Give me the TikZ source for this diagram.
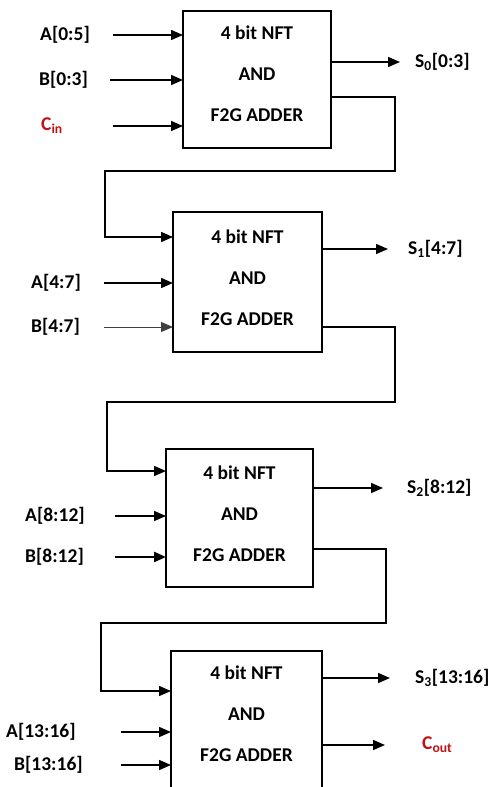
\documentclass[tikz,border=0pt]{standalone}
\usepackage{fontspec}
\setmainfont{Carlito}
\usetikzlibrary{arrows.meta}
\definecolor{carryred}{RGB}{190,20,20}
\begin{document}
\begin{tikzpicture}[x=1pt,y=-1pt,
  blk/.style={draw, line width=1.8pt, inner sep=0pt, outer sep=0pt, anchor=north west},
  blktxt/.style={font=\fontsize{19.5}{41}\selectfont\bfseries, align=center, inner sep=0pt},
  lbl/.style={font=\fontsize{19.5}{20}\selectfont\bfseries, inner sep=0pt, anchor=west},
  clbl/.style={lbl, text=carryred},
  arr/.style={line width=1.5pt, -{Triangle[length=12pt,width=10pt]}},
  thinarr/.style={line width=0.9pt, draw=black!75, -{Triangle[length=12pt,width=10pt]}},
  thickarr/.style={line width=2.3pt, -{Triangle[length=12pt,width=10pt]}},
  wire/.style={line width=1.4pt},
]
\clip (0,0) rectangle (501,787);
\fill[white] (0,0) rectangle (501,787);

% adder blocks
\node[blk, minimum width=148pt, minimum height=137pt] (b1) at (183,11) {};
\node[blk, minimum width=149pt, minimum height=140pt] (b2) at (173,212) {};
\node[blk, minimum width=147pt, minimum height=138pt] (b3) at (166,449) {};
\node[blk, minimum width=151pt, minimum height=150pt] (b4) at (171,651) {};

\node[blktxt] (t1) at (257,74) {4 bit NFT\\AND\\F2G ADDER};
\node[blktxt] (t2) at (247.5,278) {4 bit NFT\\AND\\F2G ADDER};
\node[blktxt] (t3) at (239.5,514) {4 bit NFT\\AND\\F2G ADDER};
\node[blktxt] (t4) at (246.5,714) {4 bit NFT\\AND\\F2G ADDER};

% block 1 inputs
\node[lbl] (a1) at (40,35) {A[0:5]};
\node[lbl] (bb1) at (39,80) {B[0:3]};
\node[clbl] (cin) at (41,126) {C\textsubscript{in}};
\coordinate (a1s) at (113,35);
\coordinate (bb1s) at (110,80);
\coordinate (cins) at (113,126);
\draw[arr] (a1s) -- (a1s -| b1.west);
\draw[arr] (bb1s) -- (bb1s -| b1.west);
\draw[arr] (cins) -- (cins -| b1.west);

% block 2 inputs
\node[lbl] (a2) at (31,283) {A[4:7]};
\node[lbl] (bb2) at (31,327) {B[4:7]};
\coordinate (a2s) at (104,283);
\coordinate (bb2s) at (104,327);
\draw[arr] (a2s) -- (a2s -| b2.west);
\draw[thinarr] (bb2s) -- (bb2s -| b2.west);

% block 3 inputs
\node[lbl] (a3) at (25,516) {A[8:12]};
\node[lbl] (bb3) at (25,557) {B[8:12]};
\coordinate (a3s) at (115,516);
\coordinate (bb3s) at (115,557);
\draw[arr] (a3s) -- (a3s -| b3.west);
\draw[thickarr] (bb3s) -- (bb3s -| b3.west);

% block 4 inputs
\node[lbl] (a4) at (6,732) {A[13:16]};
\node[lbl] (bb4) at (14,765) {B[13:16]};
\coordinate (a4s) at (121,732);
\coordinate (bb4s) at (121,765);
\draw[arr] (a4s) -- (a4s -| b4.west);
\draw[arr] (bb4s) -- (bb4s -| b4.west);

% sum outputs
\node[lbl] (s0) at (415,62) {S\textsubscript{0}[0:3]};
\node[lbl] (s1) at (408,249) {S\textsubscript{1}[4:7]};
\node[lbl] (s2) at (407,488) {S\textsubscript{2}[8:12]};
\node[lbl] (s3) at (415,678) {S\textsubscript{3}[13:16]};
\node[clbl] (cout) at (422,745) {C\textsubscript{out}};
\coordinate (s0e) at (400,62);
\coordinate (s1e) at (388,249);
\coordinate (s2e) at (383,488);
\coordinate (s3e) at (390,678);
\coordinate (coute) at (385,745);
\draw[arr] (s0e -| b1.east) -- (s0e);
\draw[arr] (s1e -| b2.east) -- (s1e);
\draw[arr] (s2e -| b3.east) -- (s2e);
\draw[arr] (s3e -| b4.east) -- (s3e);
\draw[arr] (coute -| b4.east) -- (coute);

% carry chain
\draw[wire, -{Triangle[length=12pt,width=10pt]}]
  (b1.east |- 0,97) -- (395,97) -- (395,171) -- (105,171) -- (105,237) -- (b2.west |- 0,237);
\draw[wire, -{Triangle[length=12pt,width=10pt]}]
  (b2.east |- 0,327) -- (395,327) -- (395,402) -- (107,402) -- (107,471) -- (b3.west |- 0,471);
\draw[wire, -{Triangle[length=12pt,width=10pt]}]
  (b3.east |- 0,549) -- (386,549) -- (386,623) -- (101,623) -- (101,691) -- (b4.west |- 0,691);
\end{tikzpicture}
\end{document}
